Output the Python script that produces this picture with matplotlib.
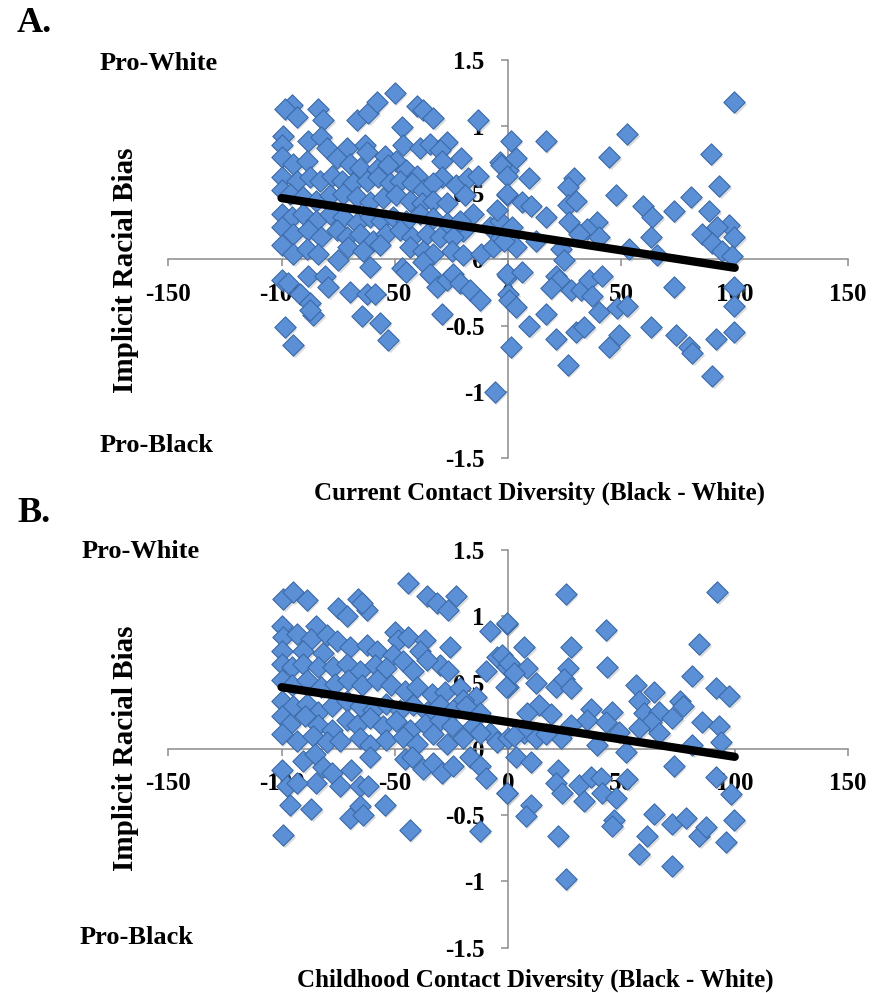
import numpy as np
import matplotlib
matplotlib.use("Agg")
import matplotlib.pyplot as plt
import matplotlib.transforms as mtransforms

plt.rcParams['font.family'] = ['Liberation Serif', 'DejaVu Serif']
plt.rcParams['font.weight'] = 'bold'

# ---- panel A : current contact diversity ----
a_x = [
    # top (y > 0.95)
    -95.6, -98.5, -93.4, -83.8, -81.6, -66.9, -61.8, -58.1, -50, -40.4, -37.5, -33.1, -13.2, -47, -46.3,
    # 0.5 .. 0.95
    -99.3, -100, -88.2, -82.4, -80.1, -71.3, -63.2, -62.5, -54.4, -49.3, -39, -34.6, -27.2, -30.1,
    -20.6, -29.4, -29.4, -22.8, -17.6, -13.2, -19.1, -15.4, -19.9, -3.7,
    -100, -94.9, -89, -75.7, -69.9, -65.4, -58.1, -52.9, -44.9, -40.4,
    -100, -93.4, -87.5, -83.1, -77.9, -73.5, -68.4, -62.5, -57.4, -52.2, -47.8, -42.6, -37.5, -33.1,
    # 0.4 .. 0.5
    -100, -96.3, -90.4, -84.6, -78.7, -72.8, -66.9, -61, -55.1, -49.3, -43.4, -38.2, -33.1, -27.2,
    # 0.25 .. 0.35
    -100, -95.6, -90.4, -84.6, -78.7, -72.8, -66.9, -61, -55.9, -50.7, -44.9, -39, -33.1, -27.2, -21.3,
    # 0.15 .. 0.25
    -100, -94.9, -88.2, -82.4, -75.7, -71.3, -65.4, -59.6, -53.7, -47.8, -42.6, -36, -30.1, -24.3,
    # 0 .. 0.15 and near the axis
    -100, -94.9, -89, -83.8, -75, -70.6, -64, -56.6, -61, -43.4, -37.5, -33.1, -25, -19.9, -11.8,
    -6.6, -3.7, -8.1, -3.7, -5.1, -0.7, 0,
    # below zero
    -100, -97, -91.9, -88.2, -87.5, -86, -87.5, -98.5, -94.9, -80.9, -79.4, -69.9, -64.7, -62.5,
    -58.8, -56.6, -52.9, -47, -44.9, -37.5, -34.6, -31.6, -29.4, -27.2, -24.3, -21.3, -16.9, -12.5,
    -5.9, 0, 0,
    # right half
    99.7, 52.6, 1.2, 16.6, 89.4, 44.6, 3.4, -3.2, -0.3, 9.3, 29.1, 26.2, 93.1, -0.3, 47.5, 80.6,
    6.3, 10, 26.2, 30, 59.3, 63.7, 73.2, 88.7, 16.6, 26.9, 39.4, 35, 97.5, 92.4, 85.7, 31.3, 40.1,
    63, 99.7, 90.1, 94.6, 99, 1.9, 3.4, 12.2, 23.2, 24.7, 53.4, 65.9, -1.8,
    -0.3, 6.3, 21, 22.5, 18.8, 27.6, 32, 35.7, 37.2, 41.6, 73.2, 0.4, 3.4, 40.1, 48.1, 52.6,
    99.7, 99.7, 16.6, 9.3, 29.9, 33.5, 21, 49, 44.6, 63, 74, 79.9, 81.3, 91.6, 99.7, 26.2, 90.1, 1.2,
]
a_y = [
    1.16, 1.13, 1.07, 1.13, 1.05, 1.05, 1.10, 1.18, 1.25, 1.15, 1.12, 1.06, 1.05, 0.995, 0.86,
    0.93, 0.86, 0.89, 0.92, 0.84, 0.84, 0.86, 0.81, 0.78, 0.74, 0.84, 0.87, 0.88, 0.82,
    0.76, 0.74, 0.62, 0.56, 0.61, 0.63, 0.48, 0.34, 0.21, 0.73,
    0.77, 0.72, 0.74, 0.76, 0.72, 0.69, 0.68, 0.71, 0.67, 0.63,
    0.62, 0.59, 0.62, 0.59, 0.63, 0.59, 0.57, 0.59, 0.62, 0.57, 0.59, 0.57, 0.52, 0.57,
    0.52, 0.49, 0.47, 0.44, 0.48, 0.49, 0.47, 0.43, 0.46, 0.48, 0.44, 0.42, 0.44, 0.42,
    0.34, 0.32, 0.34, 0.29, 0.34, 0.32, 0.27, 0.32, 0.29, 0.32, 0.29, 0.34, 0.31, 0.27, 0.29,
    0.24, 0.19, 0.22, 0.17, 0.22, 0.17, 0.19, 0.14, 0.19, 0.22, 0.17, 0.19, 0.17, 0.17,
    0.11, 0.04, 0.08, 0.04, -0.01, 0.09, 0.06, 0.11, -0.06, 0.09, 0.06, 0.04, 0.06, 0.03, 0.04,
    0.09, 0.17, 0.24, 0.29, 0.37, 0.48, 0.67,
    -0.16, -0.18, -0.26, -0.13, -0.33, -0.42, -0.38, -0.51, -0.65, -0.13, -0.21, -0.25, -0.43, -0.26,
    -0.26, -0.48, -0.61, -0.07, -0.10, -0.02, -0.11, -0.21, -0.41, -0.16, -0.11, -0.18, -0.23, -0.31,
    -1.0, -0.13, -0.26,
    1.18, 0.94, 0.89, 0.89, 0.79, 0.77, 0.76, 0.71, 0.63, 0.61, 0.61, 0.54, 0.55, 0.49, 0.48, 0.47,
    0.43, 0.40, 0.41, 0.44, 0.40, 0.32, 0.36, 0.36, 0.32, 0.28, 0.28, 0.23, 0.26, 0.24, 0.19, 0.19, 0.17,
    0.17, 0.17, 0.12, 0.06, 0.02, 0.24, 0.09, 0.14, 0.08, -0.01, 0.08, 0.03, 0.14,
    -0.11, -0.10, -0.13, -0.16, -0.22, -0.23, -0.23, -0.16, -0.28, -0.13, -0.21, -0.31, -0.36, -0.40, -0.37, -0.35,
    -0.21, -0.35, -0.41, -0.50, -0.55, -0.51, -0.60, -0.57, -0.66, -0.51, -0.57, -0.66, -0.71, -0.60, -0.55, -0.80, -0.88, -0.66,
]

# ---- panel B : childhood contact diversity ----
b_x = [
    # top
    -99.3, -94.9, -89, -75, -71.3, -66.2, -62.5, -64.7, -44.1, -36, -31.6, -26.5, -22.8, -8.1, -0.7,
    # 0.7 .. 0.95
    -100, -99.3, -93.4, -84.6, -86.8, -80.1, -75.7, -69.9, -62.5, -58.1, -50, -48.5, -44.1, -36.8,
    -39, -25.7, -100, -90.4, -81.6, -50.7, -30.1, -26.5, -5.1, -0.7, -9.6, 0,
    # 0.55 .. 0.7
    -100, -95.6, -90.4, -83.8, -77.2, -71.3, -65.4, -58.8, -53.7, -46.3, -41.9, -36,
    # 0.4 .. 0.55
    -100, -95.6, -89, -82.4, -76.5, -70.6, -64.7, -58.1, -51.5, -45.6, -40.4, -33.8, -27.9, -21.3, -14, -19.9,
    # 0.25 .. 0.4
    -100, -94.9, -89, -83.8, -77.9, -71.3, -65.4, -59.6, -53.7, -47.8, -41.9, -36, -30.1, -24.3, -18.4, -12.5,
    # 0.1 .. 0.25
    -100, -96.3, -89.7, -83.8, -77.9, -71.3, -66.9, -61, -55.1, -49.3, -43.4, -36.8, -30.1, -25, -15.4, -8.1,
    # 0 .. 0.1
    -100, -93.4, -86, -80.1, -74.3, -65.4, -61, -53.7, -46.3, -40.4, -33.1, -27.2, -19.9, -12.5, -5.1, 0,
    # below zero
    -90.4, -85.3, -81.6, -77.9, -74.3, -69.2, -65.4, -61.8, -61, -84.6, -100, -97.8, -96.3, -86.8,
    -93.4, -69.9, -65.4, -64, -54.4, -99.3, -43.4, -45.6, -42.6, -37.5, -33.1, -29.4, -24.3, -16.9,
    -12.5, -9.6, -12.5, -0.7,
    # right half
    25.4, 92.4, -0.3, 43.1, 7.1, 27.6, 84.3, -2.5, 0.4, 8.5, 26.2, 43.8, 81.3, 2.6, -1, 12.2, 21,
    24.7, 27.6, 56.3, 64.4, 91.6, 97.5, 57.8, 75.8, 77.2, 13.7, 18.8, 8.5, 36.5, 46, 35, 43.1, 60,
    66.6, 72.5, 62.9, 85.7, 93.1, 57.8, 66.6, 49, 27.6, 23.2, 7.1, 12.2, 2.6, 16.6, 39.4, 51.9, 81.3,
    93.8, 3.4, 10, 73.2, 21.8, 21, 23.9, 31.3, 36.5, 40.9, 41.6, 47.5, 52.6, 33.5, -0.3, 10, 7.8,
    21.8, 25.4, 46.7, 46, 64.4, 61.5, 57.8, 72.5, 78.4, 72.5, 84.3, 87.2, 96, 99.7, 98.2, 91.6,
]
b_y = [
    1.13, 1.18, 1.12, 1.06, 1.00, 1.13, 1.05, 1.10, 1.25, 1.15, 1.10, 1.05, 1.15, 0.89, 0.94,
    0.93, 0.84, 0.87, 0.93, 0.83, 0.86, 0.81, 0.77, 0.78, 0.74, 0.88, 0.82, 0.84, 0.82,
    0.74, 0.77, 0.74, 0.74, 0.72, 0.71, 0.63, 0.59, 0.69, 0.62, 0.59, 0.47,
    0.64, 0.62, 0.64, 0.62, 0.62, 0.64, 0.59, 0.63, 0.61, 0.66, 0.59, 0.67,
    0.52, 0.48, 0.52, 0.47, 0.49, 0.52, 0.48, 0.52, 0.48, 0.44, 0.47, 0.41, 0.43, 0.46, 0.39, 0.37,
    0.36, 0.32, 0.34, 0.28, 0.32, 0.36, 0.32, 0.29, 0.34, 0.29, 0.33, 0.28, 0.33, 0.29, 0.32, 0.27,
    0.25, 0.19, 0.25, 0.18, 0.14, 0.22, 0.18, 0.23, 0.17, 0.21, 0.14, 0.19, 0.22, 0.17, 0.17, 0.12,
    0.11, 0.06, 0.10, 0.05, 0.06, 0.08, 0.03, 0.07, 0.09, 0.04, 0.11, 0.04, 0.08, 0.12, 0.05, 0.08,
    -0.09, -0.04, -0.14, -0.18, -0.28, -0.16, -0.28, -0.28, -0.06, -0.26, -0.16, -0.28, -0.42, -0.45,
    -0.26, -0.52, -0.43, -0.50, -0.42, -0.65, -0.61, -0.08, -0.06, -0.15, -0.11, -0.18, -0.13, -0.06,
    -0.13, -0.22, -0.62, -0.33,
    1.17, 1.18, 0.95, 0.90, 0.77, 0.77, 0.79, 0.71, 0.65, 0.61, 0.61, 0.62, 0.55, 0.57, 0.47, 0.50, 0.47,
    0.53, 0.46, 0.48, 0.43, 0.46, 0.40, 0.36, 0.36, 0.32, 0.33, 0.26, 0.27, 0.30, 0.28, 0.22, 0.20, 0.27,
    0.28, 0.23, 0.20, 0.20, 0.17, 0.16, 0.12, 0.13, 0.18, 0.08, 0.12, 0.08, 0.10, 0.11, 0.03, -0.02, 0.03,
    0.05, -0.06, -0.10, -0.13, -0.16, -0.26, -0.33, -0.27, -0.21, -0.22, -0.33, -0.37, -0.23, -0.39, -0.33, -0.42, -0.51,
    -0.66, -0.98, -0.54, -0.58, -0.49, -0.66, -0.79, -0.57, -0.52, -0.88, -0.66, -0.59, -0.70, -0.54, -0.34, -0.21,
]

# trend lines (ends)
fit_x = [-100, 100]
fit_a = [0.46, -0.065]
fit_b = [0.465, -0.06]

x_ticks = [-150, -100, -50, 0, 50, 100, 150]
y_ticks = [-1.5, -1, -0.5, 0, 0.5, 1, 1.5]
x_tick_labels = ['-150', '-100', '-50', '0', '50', '100', '150']
y_tick_labels = ['-1.5', '-1', '-0.5', '0', '0.5', '1', '1.5']

W, H = 873, 993
fig = plt.figure(figsize=(W / 100, H / 100), dpi=100)


def panel(rect, xs, ys, fit_y):
    ax = fig.add_axes(rect)
    ax.set_xlim(-150, 150)
    ax.set_ylim(-1.5, 1.5)
    for s in ['top', 'right']:
        ax.spines[s].set_visible(False)
    ax.spines['left'].set_position(('data', 0))
    ax.spines['bottom'].set_position(('data', 0))
    for s in ['left', 'bottom']:
        ax.spines[s].set_color('#8c8c8c')
        ax.spines[s].set_linewidth(1.1)
    ax.set_xticks(x_ticks)
    ax.set_xticklabels(x_tick_labels)
    ax.set_yticks(y_ticks)
    ax.set_yticklabels(y_tick_labels)
    ax.tick_params(axis='both', direction='out', length=5, width=1.1, color='#8c8c8c',
                   labelsize=18, pad=12)
    for lab in ax.get_xticklabels() + ax.get_yticklabels():
        lab.set_fontweight('bold')
    ax.patch.set_visible(False)

    # soft drop shadow under the diamonds
    shadow = mtransforms.offset_copy(ax.transData, fig=fig, x=1.5, y=-2.0, units='dots')
    ax.scatter(xs, ys, s=118, marker='D', color='#9a9a9a', alpha=0.35, linewidths=0,
               transform=shadow, zorder=3, clip_on=False)
    ax.scatter(xs, ys, s=118, marker='D', facecolor='#5b8fd6', edgecolor='#3b6aa8',
               linewidths=0.8, zorder=3.1, clip_on=False)
    ax.plot(fit_x, fit_y, color='black', lw=6, solid_capstyle='round', zorder=4)
    return ax


# axes rectangles from the pixel positions of -150/150 and -1.5/1.5
left = 168.3 / W
width = (848.0 - 168.3) / W
ax_a = panel([left, 1 - 458.3 / H, width, (458.3 - 60.0) / H], a_x, a_y, fit_a)
ax_b = panel([left, 1 - 947.7 / H, width, (947.7 - 550.0) / H], b_x, b_y, fit_b)


def ftext(x, y, s, **kw):
    fig.text(x / W, 1 - y / H, s, fontweight='bold', **kw)


ftext(34, 23, 'A.', fontsize=26, ha='center', va='center')
ftext(34, 514, 'B.', fontsize=26, ha='center', va='center')

ftext(100, 63, 'Pro-White', fontsize=19, ha='left', va='center')
ftext(100, 445, 'Pro-Black', fontsize=19, ha='left', va='center')
ftext(82, 552, 'Pro-White', fontsize=19, ha='left', va='center')
ftext(80, 937, 'Pro-Black', fontsize=19, ha='left', va='center')

ftext(126, 270, 'Implicit Racial Bias', fontsize=21, rotation=90, ha='center', va='center')
ftext(126, 748, 'Implicit Racial Bias', fontsize=21, rotation=90, ha='center', va='center')

ftext(539, 493, 'Current Contact Diversity (Black - White)', fontsize=18, ha='center', va='center')
ftext(535, 980, 'Childhood Contact Diversity (Black - White)', fontsize=18, ha='center', va='center')

fig.savefig('out.png', dpi=100)
